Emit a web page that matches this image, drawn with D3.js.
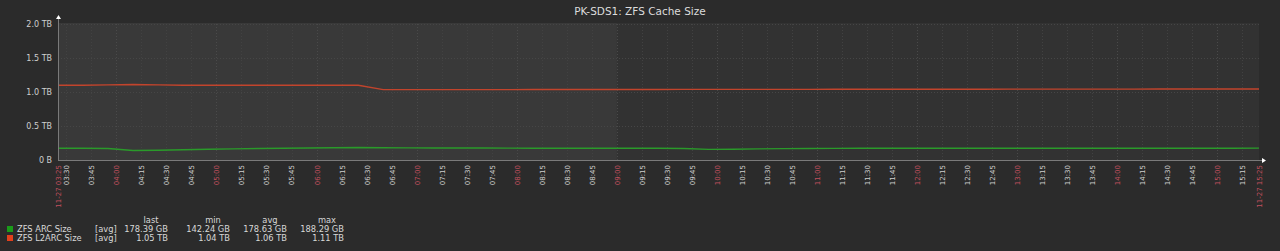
<!DOCTYPE html>
<html>
<head>
<meta charset="utf-8">
<script src="https://cdn.jsdelivr.net/npm/d3@7"></script>
<style>
  html, body { margin: 0; padding: 0; background: #2b2b2b; }
  svg { display: block; }
  text { font-family: "DejaVu Sans", sans-serif; }
</style>
</head>
<body>
<svg width="1280" height="251"></svg>
<script>
var svg = d3.select("svg"),
    width = +svg.attr("width"),
    height = +svg.attr("height");

// sample times (every 15 min from 03:25)
var times = ["03:25","03:40","03:55","04:10","04:25","04:40","04:55","05:10","05:25","05:40",
             "05:55","06:10","06:25","06:40","06:55","07:10","07:25","07:40","07:55","08:10",
             "08:25","08:40","08:55","09:10","09:25","09:40","09:55","10:10","10:25","10:40",
             "10:55","11:10","11:25","11:40","11:55","12:10","12:25","12:40","12:55","13:10",
             "13:25","13:40","13:55","14:10","14:25","14:40","14:55","15:10","15:25"];
// ZFS ARC size in GB
var arcGB = [178, 177, 174, 142.24, 146, 154, 161, 168, 174, 178,
             181, 184, 188.29, 184, 182, 181, 180, 180, 179, 178,
             178, 177, 177, 177, 176, 173, 160, 162, 167, 171,
             174, 175, 176, 177, 177, 177, 178, 178, 177, 177,
             177, 177, 177, 177, 177, 177, 177, 178, 178.39];
// ZFS L2ARC size in TB
var l2arcTB = [1.10, 1.10, 1.105, 1.11, 1.105, 1.10, 1.10, 1.10, 1.10, 1.10,
               1.10, 1.10, 1.10, 1.035, 1.035, 1.035, 1.035, 1.035, 1.035, 1.036,
               1.036, 1.036, 1.037, 1.037, 1.037, 1.038, 1.038, 1.038, 1.039, 1.039,
               1.039, 1.04, 1.04, 1.04, 1.04, 1.041, 1.041, 1.041, 1.042, 1.042,
               1.042, 1.043, 1.043, 1.043, 1.044, 1.044, 1.045, 1.045, 1.045];
var yTicks = [0, 0.5, 1.0, 1.5, 2.0];
var yLabels = ["0 B", "0.5 TB", "1.0 TB", "1.5 TB", "2.0 TB"];
var seriesNames = ["ZFS ARC Size", "ZFS L2ARC Size"];
var seriesColors = ["#1a9c1a", "#e2401c"];
var lineColors = ["#2a9a2a", "#c2442c"];
var statHeads = ["last", "min", "avg", "max"];
var statValues = [["178.39 GB", "142.24 GB", "178.63 GB", "188.29 GB"],
                  ["1.05 TB", "1.04 TB", "1.06 TB", "1.11 TB"]];

var parse = function(s) { return d3.timeParse("%Y-%m-%d %H:%M")("2023-11-27 " + s); };
var t0 = parse("03:25"), t1 = parse("15:25");

var pLeft = 58, pRight = 1259, pTop = 24, pBottom = 160;
var x = d3.scaleTime().domain([t0, t1]).range([pLeft, pRight]);
var y = d3.scaleLinear().domain([0, 2]).range([pBottom, pTop]);

// plot background, lighter before 09:00
svg.append("rect").attr("x", pLeft).attr("y", pTop - 1)
    .attr("width", pRight - pLeft).attr("height", pBottom - pTop + 1).attr("fill", "#323232");
svg.append("rect").attr("x", pLeft).attr("y", pTop - 1)
    .attr("width", x(parse("09:00")) - pLeft).attr("height", pBottom - pTop + 1).attr("fill", "#393939");

// tick times every 15 min
var ticks = d3.timeMinute.every(15).range(parse("03:30"), t1);

// vertical grid
svg.append("g").selectAll("line").data(ticks).enter().append("line")
    .attr("x1", function(d) { return Math.round(x(d)) + 0.5; })
    .attr("x2", function(d) { return Math.round(x(d)) + 0.5; })
    .attr("y1", pTop).attr("y2", pBottom)
    .attr("stroke", function(d) { return d.getMinutes() === 0 ? "#4a4a4a" : "#424242"; })
    .attr("stroke-dasharray", "1,2");

// horizontal grid
svg.append("g").selectAll("line").data(yTicks.slice(1)).enter().append("line")
    .attr("x1", pLeft).attr("x2", pRight)
    .attr("y1", function(d) { return Math.round(y(d)) + 0.5; })
    .attr("y2", function(d) { return Math.round(y(d)) + 0.5; })
    .attr("stroke", "#464646").attr("stroke-dasharray", "1,2");

// lines
var pts = function(vals, k) {
    return times.map(function(t, i) { return [parse(t), vals[i] * k]; });
};
var line = d3.line().x(function(d) { return x(d[0]); }).y(function(d) { return y(d[1]); });
svg.append("path").datum(pts(l2arcTB, 1)).attr("d", line)
    .attr("fill", "none").attr("stroke", lineColors[1]).attr("stroke-width", 1.4);
svg.append("path").datum(pts(arcGB, 1 / 1024)).attr("d", line)
    .attr("fill", "none").attr("stroke", lineColors[0]).attr("stroke-width", 1.4);

// axes lines
svg.append("line").attr("x1", pLeft + 0.5).attr("x2", pLeft + 0.5).attr("y1", pTop - 6).attr("y2", pBottom)
    .attr("stroke", "#7a7a7a");
svg.append("line").attr("x1", pLeft).attr("x2", pRight + 4).attr("y1", pBottom + 0.5).attr("y2", pBottom + 0.5)
    .attr("stroke", "#7a7a7a");
svg.append("path").attr("d", "M" + (pLeft - 2) + "," + (pTop - 5) + "L" + (pLeft + 3) + "," + (pTop - 5) + "L" + (pLeft + 0.5) + "," + (pTop - 9) + "Z")
    .attr("fill", "#fff");
svg.append("path").attr("d", "M" + (pRight + 3) + "," + (pBottom - 2) + "L" + (pRight + 3) + "," + (pBottom + 3) + "L" + (pRight + 7) + "," + (pBottom + 0.5) + "Z")
    .attr("fill", "#fff");

// y labels
svg.append("g").selectAll("text").data(yTicks).enter().append("text")
    .attr("x", 52).attr("y", function(d) { return y(d); }).attr("dy", "0.35em")
    .attr("text-anchor", "end").attr("font-size", 8).attr("fill", "#cfcfcf")
    .text(function(d, i) { return yLabels[i]; });

// x labels
var fmt = d3.timeFormat("%H:%M");
var xl = svg.append("g").attr("font-size", 7);
xl.selectAll("text").data(ticks).enter().append("text")
    .attr("transform", function(d) { return "translate(" + (x(d) + 0.5) + "," + (pBottom + 5) + ") rotate(-90)"; })
    .attr("dy", "0.35em").attr("text-anchor", "end")
    .attr("fill", function(d) { return d.getMinutes() === 0 ? "#c0505e" : "#d0d0d0"; })
    .text(fmt);
xl.selectAll("text.edge").data([t0, t1]).enter().append("text")
    .attr("class", "edge")
    .attr("transform", function(d) { return "translate(" + (x(d) + 0.5) + "," + (pBottom + 5) + ") rotate(-90)"; })
    .attr("dy", "0.35em").attr("text-anchor", "end").attr("fill", "#c0505e")
    .text(d3.timeFormat("%m-%d %H:%M"));

// title
svg.append("text").attr("x", 640).attr("y", 15).attr("text-anchor", "middle")
    .attr("font-size", 10.5).attr("fill", "#dcdcdc").text("PK-SDS1: ZFS Cache Size");

// legend
var statRight = [168, 230, 287, 344];
var lg = svg.append("g").attr("font-size", 8.3).attr("fill", "#d8d8d8");
lg.selectAll("text.h").data(statHeads).enter().append("text").attr("class", "h")
    .attr("x", function(d, i) { return statRight[i] - 17; }).attr("y", 223)
    .attr("text-anchor", "middle").text(function(d) { return d; });
seriesNames.forEach(function(n, i) {
    var yy = 232 + i * 9;
    lg.append("rect").attr("x", 7).attr("y", yy - 6).attr("width", 6).attr("height", 6)
        .attr("fill", seriesColors[i]);
    lg.append("text").attr("x", 17).attr("y", yy).text(n);
    lg.append("text").attr("x", 95).attr("y", yy).text("[avg]");
    statValues[i].forEach(function(v, j) {
        lg.append("text").attr("x", statRight[j]).attr("y", yy).attr("text-anchor", "end").text(v);
    });
});
</script>
</body>
</html>
